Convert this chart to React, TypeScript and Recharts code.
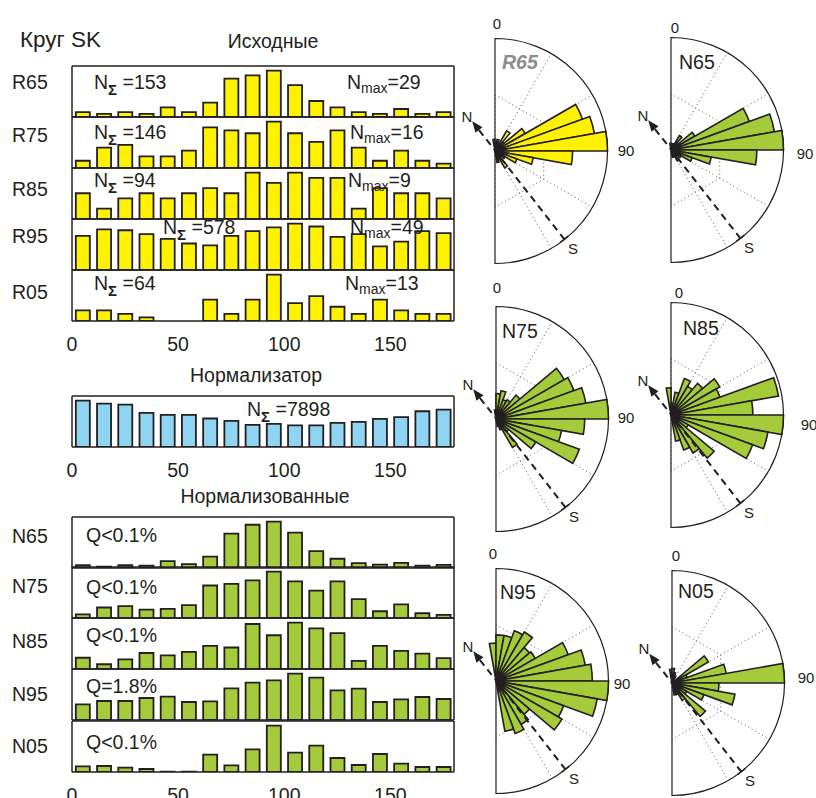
import React from "react"
import {
  BarChart, Bar, XAxis, YAxis,
  RadialBarChart, RadialBar, PolarAngleAxis, PolarRadiusAxis, PolarGrid,
  PieChart, Pie,
} from "recharts"

const ink = "#231f20"
const yellow = "#fff200"
const green = "#a4cc3a"
const blue = "#8fd4f2"
const font = '"Liberation Sans", Arial, Helvetica, sans-serif'

// 10-degree bins, 0..180
const bins = [0, 10, 20, 30, 40, 50, 60, 70, 80, 90, 100, 110, 120, 130, 140, 150, 160, 170]
const xTicks = [0, 50, 100, 150]

// Исходные (counts per bin)
const r65 = [3, 2, 3, 2, 6, 3, 9, 24, 26, 29, 20, 10, 6, 3, 2, 5, 2, 3]
const r75 = [2.5, 7, 8, 4, 4, 6, 14, 13, 12, 16, 12, 9, 13, 7, 2.5, 6, 2.5, 1.5]
const r85 = [5, 2, 4, 5, 4, 5, 6, 5, 9, 7, 9, 8, 8, 2, 6, 5, 5, 4]
const r95 = [36, 43, 42, 38, 33, 28, 26, 36, 41, 45, 49, 46, 35, 38, 25, 30, 41, 39]
const r05 = [3, 3, 2, 1, 0, 0, 6, 2, 6, 13, 5, 7, 4, 2, 6, 3, 2, 2]

// Нормализатор
const norm = [661, 618, 604, 486, 458, 458, 406, 373, 316, 330, 307, 307, 345, 359, 401, 425, 510, 533]

// Нормализованные (relative units)
const n65 = [8, 4, 8, 7, 20, 11, 33, 100, 126, 135, 103, 49, 27, 14, 10, 15, 7, 9]
const n75 = [11, 31, 35, 25, 27, 38, 96, 101, 111, 137, 108, 81, 108, 56, 20, 40, 14, 9]
const n85 = [33, 14, 28, 47, 40, 50, 68, 63, 132, 99, 136, 119, 105, 24, 68, 53, 45, 32]
const n95 = [47, 57, 57, 66, 70, 54, 56, 95, 112, 119, 139, 127, 89, 94, 54, 62, 69, 63]
const n05 = [17, 18, 13, 9, 1, 1, 52, 20, 68, 139, 58, 79, 42, 21, 54, 25, 15, 15]

const frame = { stroke: ink, strokeWidth: 1.5 }

function T({ x, y, children, size = 19.5, center = false, style = {} }: any) {
  return (
    <div
      style={{
        position: "absolute", left: x, top: y,
        transform: center ? "translate(-50%,-50%)" : "translateY(-50%)",
        fontSize: size, lineHeight: 1, whiteSpace: "nowrap", ...style,
      }}
    >
      {children}
    </div>
  )
}

const NSum = ({ v }: { v: string }) => (
  <span>N<span style={{ fontSize: 15, fontWeight: "bold", position: "relative", top: 6 }}>Σ</span> ={v}</span>
)
const NMax = ({ v }: { v: string }) => (
  <span>N<span style={{ fontSize: 14, position: "relative", top: 4 }}>max</span>={v}</span>
)

function Hist({ values, fill, top, labels = false }: { values: number[]; fill: string; top: number; labels?: boolean }) {
  const rows = bins.map((b, i) => ({ bin: b, mid: b + 5, v: values[i] }))
  const yTop = Math.max(...values) * 1.1
  return (
    <div style={{ position: "absolute", left: 60, top: top - 1 }}>
      <BarChart
        width={406}
        height={53 + (labels ? 36 : 0)}
        data={rows}
        margin={{ top: 1, right: 12, bottom: 1, left: 12 }}
        barCategoryGap="18%"
      >
        <XAxis xAxisId="cat" dataKey="bin" type="category" orientation="top" hide />
        {labels && (
          <XAxis xAxisId="lab" orientation="bottom" type="number" dataKey="mid" domain={[0, 180]}
            ticks={xTicks} interval={0} tickLine={false} axisLine={false} height={36} tickMargin={10}
            tick={{ fontSize: 19.5, fill: ink, fontFamily: font }} allowDataOverflow />
        )}
        <XAxis xAxisId="top" orientation="top" mirror type="number" dataKey="mid" domain={[0, 180]}
          ticks={[50, 100, 150]} tick={false} tickSize={4} axisLine={frame} tickLine={frame} allowDataOverflow />
        <XAxis xAxisId="bot" orientation="bottom" mirror type="number" dataKey="mid" domain={[0, 180]}
          ticks={[50, 100, 150]} tick={false} tickSize={4} axisLine={frame} tickLine={frame} allowDataOverflow />
        <YAxis yAxisId="l" orientation="left" mirror type="number" domain={[0, yTop]} ticks={[yTop / 2]}
          tick={false} tickSize={4} axisLine={frame} tickLine={frame} allowDataOverflow />
        <YAxis yAxisId="r" orientation="right" mirror type="number" domain={[0, yTop]} ticks={[yTop / 2]}
          tick={false} tickSize={4} axisLine={frame} tickLine={frame} allowDataOverflow />
        <Bar xAxisId="cat" yAxisId="l" dataKey="v" fill={fill} stroke={ink} strokeWidth={1.8} isAnimationActive={false} />
      </BarChart>
    </div>
  )
}

const R = 112.5
const S = 232
const H = S / 2

function Rose({ values, fill, cx, cy }: { values: number[]; fill: string; cx: number; cy: number }) {
  const rows = bins.map((b, i) => ({ bin: b, v: values[i] }))
  const vmax = Math.max(...values)
  const m = { top: 0, right: 0, bottom: 0, left: 0 }
  return (
    <>
      <div style={{ position: "absolute", left: cx - H, top: cy - H }}>
        <PieChart width={S} height={S} margin={m}>
          <Pie data={[{ v: 1 }]} dataKey="v" cx={H} cy={H} innerRadius={0} outerRadius={R}
            startAngle={90} endAngle={-90} fill="#ffffff" stroke={ink} strokeWidth={1.2} isAnimationActive={false} />
        </PieChart>
      </div>
      <div style={{ position: "absolute", left: cx - H, top: cy - H }}>
        <RadialBarChart width={S} height={S} data={rows} layout="centric" margin={m}
          cx={H} cy={H} innerRadius={0} outerRadius={R} startAngle={90} endAngle={-90} barCategoryGap={0}>
          <PolarAngleAxis type="category" dataKey="bin" tick={false} tickLine={false} axisLine={false} />
          <PolarRadiusAxis type="number" domain={[0, vmax]} tick={false} axisLine={false} />
          <PolarGrid gridType="polygon" polarAngles={[60, 30, -30, -60]} polarRadius={[]}
            stroke="#555" strokeWidth={1} strokeDasharray="1 3" />
          <PolarGrid gridType="polygon" polarAngles={[90, 30, -30, -90]} polarRadius={[R / 2]} radialLines={false}
            stroke="#555" strokeWidth={1} strokeDasharray="1 3" fill="none" />
          <RadialBar dataKey="v" fill={fill} stroke={ink} strokeWidth={1.6} isAnimationActive={false} />
        </RadialBarChart>
      </div>
    </>
  )
}

const roses = [
  { name: "R65", values: r65, fill: yellow, cx: 495, cy: 150.5, nx: 502, ny: 63, zx: 497, zy: 23, ex: 626, ey: 150, grey: true },
  { name: "N65", values: n65, fill: green, cx: 671, cy: 149.5, nx: 679, ny: 63, zx: 675, zy: 27, ex: 805, ey: 153 },
  { name: "N75", values: n75, fill: green, cx: 496, cy: 418.5, nx: 502, ny: 332, zx: 497, zy: 287, ex: 626, ey: 417 },
  { name: "N85", values: n85, fill: green, cx: 671, cy: 414.5, nx: 683, ny: 329, zx: 679, zy: 292, ex: 809, ey: 424 },
  { name: "N95", values: n95, fill: green, cx: 496, cy: 680.5, nx: 500, ny: 593, zx: 493, zy: 553, ex: 622, ey: 683 },
  { name: "N05", values: n05, fill: green, cx: 672, cy: 683, nx: 678, ny: 592, zx: 676, zy: 555, ex: 806, ey: 677 },
]

function Compass({ cx, cy }: { cx: number; cy: number }) {
  const az = (142 * Math.PI) / 180
  const ux = Math.sin(az)
  const uy = -Math.cos(az)
  const px = -uy
  const py = ux
  const tx = cx - ux * 37, ty = cy - uy * 37
  const bx = cx - ux * 26, by = cy - uy * 26
  const sx = cx + ux * R, sy = cy + uy * R
  return (
    <g>
      <line x1={bx} y1={by} x2={sx} y2={sy} stroke={ink} strokeWidth={2} strokeDasharray="7 5" />
      <polygon points={`${tx},${ty} ${bx + px * 4.5},${by + py * 4.5} ${bx - px * 4.5},${by - py * 4.5}`} fill={ink} />
      <line x1={sx - px * 5} y1={sy - py * 5} x2={sx + px * 5} y2={sy + py * 5} stroke={ink} strokeWidth={1.5} />
    </g>
  )
}

const yellowRows = [
  { name: "R65", values: r65, top: 66, ly: 83, sum: "153", sx: 94, max: "29", mx: 347, ty: 83 },
  { name: "R75", values: r75, top: 117, ly: 136, sum: "146", sx: 94, max: "16", mx: 350, ty: 133 },
  { name: "R85", values: r85, top: 168, ly: 190, sum: "94", sx: 94, max: "9", mx: 348, ty: 181 },
  { name: "R95", values: r95, top: 219, ly: 237, sum: "578", sx: 163, max: "49", mx: 350, ty: 228 },
  { name: "R05", values: r05, top: 270, ly: 293, sum: "64", sx: 94, max: "13", mx: 345, ty: 284 },
]

const greenRows = [
  { name: "N65", values: n65, top: 517, ly: 537, q: "Q<0.1%", qy: 536 },
  { name: "N75", values: n75, top: 567, ly: 587, q: "Q<0.1%", qy: 588 },
  { name: "N85", values: n85, top: 618, ly: 642, q: "Q<0.1%", qy: 636 },
  { name: "N95", values: n95, top: 669, ly: 695, q: "Q=1.8%", qy: 687 },
  { name: "N05", values: n05, top: 721, ly: 747, q: "Q<0.1%", qy: 743 },
]

export default function App() {
  return (
    <div
      style={{
        position: "absolute", left: 0, top: 0, width: 816, height: 798, overflow: "hidden",
        background: "#ffffff", fontFamily: font, color: ink,
      }}
    >
      {yellowRows.map((r, i) => (
        <Hist key={r.name} values={r.values} fill={yellow} top={r.top} labels={i === yellowRows.length - 1} />
      ))}
      <Hist values={norm} fill={blue} top={396} labels />
      {greenRows.map((r, i) => (
        <Hist key={r.name} values={r.values} fill={green} top={r.top} labels={i === greenRows.length - 1} />
      ))}

      {roses.map((r) => (
        <Rose key={r.name} values={r.values} fill={r.fill} cx={r.cx} cy={r.cy} />
      ))}

      <svg width={816} height={798} style={{ position: "absolute", left: 0, top: 0, pointerEvents: "none" }}>
        {roses.map((r) => (
          <Compass key={r.name} cx={r.cx} cy={r.cy} />
        ))}
      </svg>

      <T x={20} y={40} size={22.5}>Круг SK</T>
      <T x={273} y={42} center>Исходные</T>
      <T x={256} y={376} center>Нормализатор</T>
      <T x={265} y={497} center>Нормализованные</T>

      {yellowRows.map((r) => (
        <React.Fragment key={r.name}>
          <T x={12} y={r.ly}>{r.name}</T>
          <T x={r.sx} y={r.ty}><NSum v={r.sum} /></T>
          <T x={r.mx} y={r.ty}><NMax v={r.max} /></T>
        </React.Fragment>
      ))}
      <T x={247} y={410}><NSum v="7898" /></T>
      {greenRows.map((r) => (
        <React.Fragment key={r.name}>
          <T x={12} y={r.ly}>{r.name}</T>
          <T x={86} y={r.qy}>{r.q}</T>
        </React.Fragment>
      ))}

      {roses.map((r) => (
        <React.Fragment key={r.name}>
          <T x={r.nx} y={r.ny} style={r.grey ? { color: "#8c8c8c", fontWeight: "bold", fontStyle: "italic" } : {}}>{r.name}</T>
          <T x={r.zx} y={r.zy} size={15} center>0</T>
          <T x={r.ex} y={r.ey} size={15} center>90</T>
          <T x={r.cx - 28} y={r.cy - 35} size={15} center>N</T>
          <T x={r.cx + 78} y={r.cy + 97} size={15} center>S</T>
        </React.Fragment>
      ))}
    </div>
  )
}
